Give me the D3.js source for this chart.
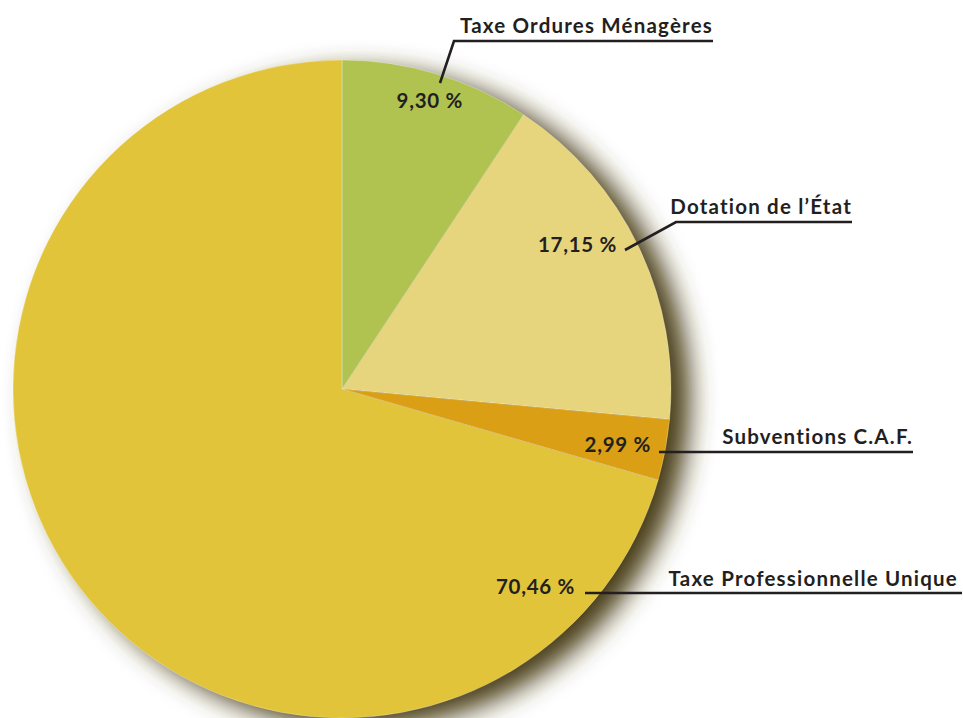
<!DOCTYPE html>
<html>
<head>
<meta charset="utf-8">
<script src="https://cdn.jsdelivr.net/npm/d3@7"></script>
<style>
  html, body { margin: 0; padding: 0; background: #fff; }
  svg { display: block; }
  text { font-family: "Lato", "DejaVu Sans", sans-serif; fill: #231f20; }
</style>
</head>
<body>
<svg></svg>
<script>
const categories = ["Taxe Ordures Ménagères", "Dotation de l’État", "Subventions C.A.F.", "Taxe Professionnelle Unique"];
const values = [9.30, 17.15, 2.99, 70.46];
const valueLabels = ["9,30 %", "17,15 %", "2,99 %", "70,46 %"];
const colors = ["#b0c350", "#e6d57c", "#da9f14", "#e1c43a"];

// callout layout: value text end point, leader line, name text
const callouts = [
  { vx: 463, vy: 108, line: [[440, 83], [454, 41], [713, 41]], nx: 713, ny: 33 },
  { vx: 617, vy: 252, line: [[625, 250], [676, 222], [852, 222]], nx: 852, ny: 214 },
  { vx: 651, vy: 452, line: [[659, 452], [913, 452]], nx: 913, ny: 444 },
  { vx: 575, vy: 594, line: [[585, 593], [962, 593]], nx: 958, ny: 586 }
];

const width = 963, height = 718;
const cx = 342, cy = 389, radius = 329;

const svg = d3.select('svg')
  .attr('width', width)
  .attr('height', height);

const defs = svg.append('defs');
const filter = defs.append('filter')
  .attr('id', 'shadow')
  .attr('x', '-20%').attr('y', '-20%')
  .attr('width', '140%').attr('height', '140%');
filter.append('feGaussianBlur').attr('stdDeviation', 13);

const pie = d3.pie().sort(null).value(d => d);
const arc = d3.arc().innerRadius(0).outerRadius(radius);
const arcs = pie(values);

const g = svg.append('g').attr('transform', `translate(${cx},${cy})`);

// soft drop shadow behind the pie
g.append('circle')
  .attr('cx', 19)
  .attr('cy', 10)
  .attr('r', radius)
  .attr('fill', '#4a3c16')
  .attr('opacity', 1)
  .attr('filter', 'url(#shadow)');

g.selectAll('path.slice')
  .data(arcs)
  .enter().append('path')
  .attr('class', 'slice')
  .attr('d', arc)
  .attr('fill', (d, i) => colors[i])
  .attr('stroke', 'rgba(255,255,255,0.35)')
  .attr('stroke-width', 0.8);

const line = d3.line();

svg.selectAll('path.leader')
  .data(callouts)
  .enter().append('path')
  .attr('class', 'leader')
  .attr('d', d => line(d.line))
  .attr('fill', 'none')
  .attr('stroke', '#231f20')
  .attr('stroke-width', 2.6);

svg.selectAll('text.value')
  .data(callouts)
  .enter().append('text')
  .attr('class', 'value')
  .attr('x', d => d.vx)
  .attr('y', d => d.vy)
  .attr('text-anchor', 'end')
  .attr('font-size', 20.5)
  .attr('font-weight', 700)
  .attr('letter-spacing', 0.7)
  .text((d, i) => valueLabels[i]);

svg.selectAll('text.name')
  .data(callouts)
  .enter().append('text')
  .attr('class', 'name')
  .attr('x', d => d.nx)
  .attr('y', d => d.ny)
  .attr('text-anchor', 'end')
  .attr('font-size', 20.5)
  .attr('font-weight', 700)
  .attr('letter-spacing', 1.2)
  .text((d, i) => categories[i]);
</script>
</body>
</html>
